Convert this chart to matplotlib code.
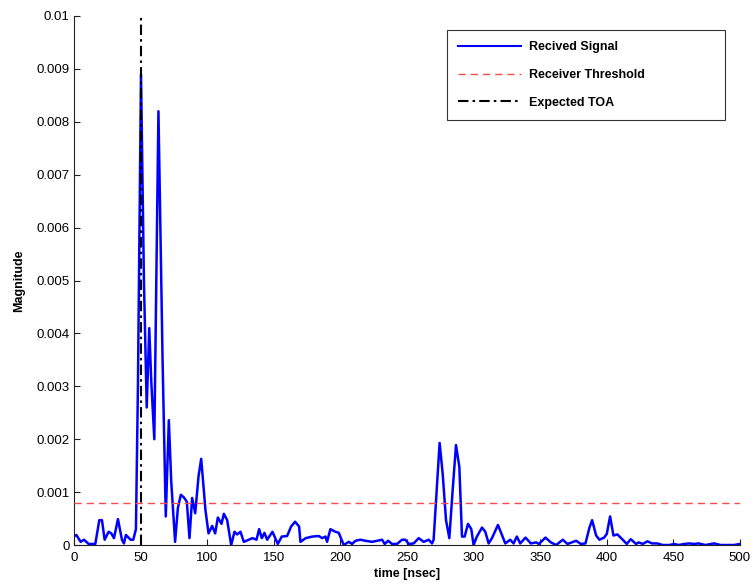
"""Received UWB signal magnitude vs. time with threshold and expected TOA."""

import matplotlib
matplotlib.use("Agg")
import matplotlib.pyplot as plt
import matplotlib.ticker as mticker

FONT = "Liberation Sans"
plt.rcParams["font.family"] = [FONT, "DejaVu Sans"]

# Received signal envelope (time in nsec, magnitude)
time_ns = [
    0, 1.75, 5, 7.5, 11, 16, 19, 21, 23, 26, 28, 30, 33, 36, 37.5, 39, 42.5, 44.5,
    46.5, 48, 50.3, 52.5, 54.6, 56.5, 58, 60.3, 63.4, 66.5, 68.9, 71.2, 73, 75.9,
    78, 80.2, 82.5, 84.7, 86.7, 88.7, 91, 93.5, 95.5, 98.7, 101, 103.75, 106, 108,
    110.75, 112.5, 115, 118, 120.5, 122.5, 125, 127.5, 134, 137, 139, 141, 143, 145,
    149, 153, 156, 160, 163, 166, 169, 170, 174, 179, 183.8, 186.3, 188.8, 190,
    192.5, 196.3, 198.8, 202.5, 206.3, 208.8, 211.3, 215, 218.8, 223.8, 227.5,
    231.3, 233.3, 235.8, 238.8, 242.5, 246.3, 248.8, 251.3, 255, 258.8, 262.5,
    266.3, 268.8, 270, 272, 274.5, 276.8, 279.3, 281.8, 284.3, 286.8, 289.3, 291.3,
    293.3, 295.8, 298.3, 300, 302.5, 306.3, 308.8, 311.3, 313.8, 318.3, 321.3,
    323.8, 327.5, 330, 332.5, 335, 339, 343, 347, 349, 354, 358, 362, 367, 370.5,
    377, 380.5, 384, 387, 389, 392, 394.5, 398, 400, 402.5, 405, 408, 412, 415,
    418, 422, 424, 427, 430.5, 434, 438, 442, 447, 450.5, 454, 458, 462, 465.5,
    469, 474, 480.5, 485.5, 495.5, 500,
]
magnitude = [
    0.00016, 0.00019, 0.00006, 0.0001, 0.00002, 0.00002, 0.00047, 0.00047, 0.0001,
    0.00025, 0.00022, 0.00013, 0.00049, 0.0001, 0.00003, 0.00019, 0.0001, 0.0001,
    0.0003, 0.003, 0.0089, 0.005, 0.0026, 0.0041, 0.0031, 0.002, 0.0082, 0.0035,
    0.00054, 0.00236, 0.0012, 0.00006, 0.0007, 0.00095, 0.0009, 0.00082, 0.00013,
    0.00089, 0.0006, 0.0013, 0.00163, 0.00066, 0.00022, 0.00036, 0.00022, 0.00052,
    0.0004, 0.00059, 0.00047, 0.0, 0.00025, 0.0002, 0.00025, 0.00006, 0.00013,
    0.0001, 0.0003, 0.00013, 0.00023, 0.0001, 0.00025, 0.00002, 0.00016, 0.00017,
    0.00035, 0.00044, 0.00035, 0.00006, 0.00013, 0.00016, 0.00017, 0.00013,
    0.00016, 0.00006, 0.0003, 0.00025, 0.00023, 0.0, 0.00006, 0.00002, 0.00008,
    0.0001, 0.00008, 0.00006, 0.00008, 0.0001, 0.00002, 0.00008, 0.00002, 0.00002,
    0.0001, 0.0001, 0.00002, 0.00003, 0.00013, 0.00006, 0.0001, 0.00003, 0.0001,
    0.0009, 0.00193, 0.00135, 0.00047, 0.00013, 0.00104, 0.00189, 0.00148,
    0.00016, 0.00016, 0.0004, 0.0003, 0.0, 0.00016, 0.00033, 0.00025, 0.00003,
    0.00013, 0.00038, 0.00019, 0.00003, 0.0001, 0.00003, 0.00016, 0.00003,
    0.00014, 0.00003, 0.00005, 0.00002, 0.00014, 0.00005, 0.0, 0.0001, 0.00002,
    0.00008, 0.00002, 0.00003, 0.00033, 0.00047, 0.00018, 0.0001, 0.00014,
    0.00021, 0.00054, 0.00018, 0.0002, 0.0001, 0.00002, 0.00011, 0.00002, 0.00005,
    0.00002, 0.00007, 0.00003, 0.00003, 0.0, 0.0, 0.00002, 0.0, 0.00002, 0.00003,
    0.00002, 0.00003, 0.0, 0.00003, 0.0, 0.0, 0.00002,
]

THRESHOLD = 0.0008
EXPECTED_TOA = 50.0
X_LIM = (0, 500)
Y_LIM = (0, 0.01)
X_TICKS = list(range(0, 501, 50))
Y_TICKS = [i * 0.001 for i in range(11)]


def make_plot():
    fig = plt.figure(figsize=(7.52, 5.88), dpi=100)
    ax = fig.add_axes([0.0984, 0.0731, 0.8856, 0.8997])

    ax.plot(time_ns, magnitude, color="#0000ff", lw=1.8, label="Recived Signal",
            solid_joinstyle="round", zorder=2)
    ax.plot(X_LIM, [THRESHOLD, THRESHOLD], color="#ff4a4a", lw=1.0,
            dashes=(5.2, 3.6), label="Receiver Threshold", zorder=3)
    ax.plot([EXPECTED_TOA, EXPECTED_TOA], Y_LIM, color="black", lw=1.5,
            linestyle=(0, (5, 2, 1.2, 2)), label="Expected TOA", zorder=4)

    ax.set_xlim(*X_LIM)
    ax.set_ylim(*Y_LIM)
    ax.set_xticks(X_TICKS)
    ax.set_yticks(Y_TICKS)
    ax.yaxis.set_major_formatter(mticker.FuncFormatter(lambda v, p: "%g" % round(v, 4)))

    for side in ("top", "right"):
        ax.spines[side].set_visible(False)
    for side in ("left", "bottom"):
        ax.spines[side].set_color("#222222")
        ax.spines[side].set_linewidth(0.8)
    ax.tick_params(direction="in", length=4, width=0.8, labelsize=9.5,
                   colors="#222222", labelcolor="black")
    ax.tick_params(axis="x", pad=5)
    ax.tick_params(axis="y", pad=3)

    ax.set_xlabel("time [nsec]", fontsize=9, fontweight="bold", labelpad=3)
    ax.set_ylabel("Magnitude", fontsize=9, fontweight="bold", labelpad=8)

    leg = ax.legend(loc="upper left", bbox_to_anchor=(0.560, 0.9735, 0.4174, 0.0),
                    mode="expand", borderaxespad=0, fancybox=False,
                    prop={"weight": "bold", "size": 9}, handlelength=5.0,
                    handletextpad=0.65, labelspacing=1.25, borderpad=0.9)
    leg.get_frame().set_edgecolor("black")
    leg.get_frame().set_linewidth(0.8)
    leg.get_lines()[0].set_linewidth(1.5)

    fig.savefig("out.png", dpi=100, facecolor="white")
    plt.close(fig)


if __name__ == "__main__":
    make_plot()
